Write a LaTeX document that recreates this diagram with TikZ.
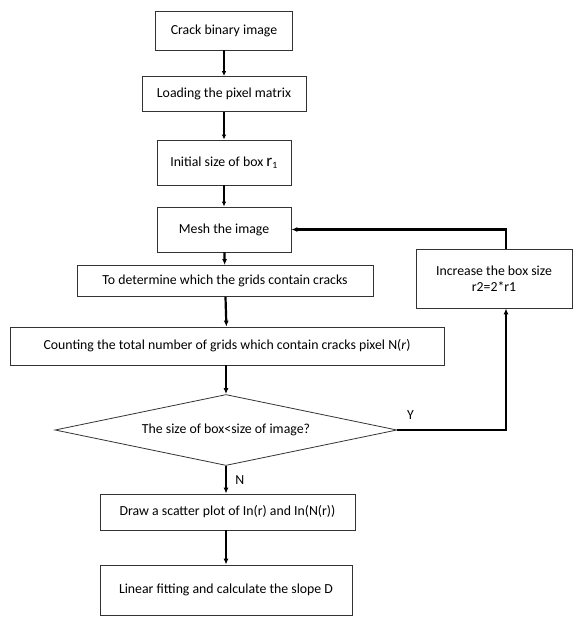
\documentclass[tikz,border=0pt]{standalone}
\usepackage{fontspec}
\setmainfont{Carlito}
\usetikzlibrary{shapes.geometric,arrows.meta}
\tikzset{
	stepbox/.style={draw=black!80, line width=0.8pt, fill=white, inner sep=0pt, align=center},
	testbox/.style={diamond, aspect=4.8, draw=black!80, line width=0.8pt, inner sep=0pt, minimum width=342pt, minimum height=71pt},
	flow/.style={line width=2.2pt, -{Latex[length=6pt,width=5pt]}},
	thinflow/.style={line width=1.4pt, -{Latex[length=5pt,width=4.5pt]}}
}

\begin{document}
\begin{tikzpicture}[x=1pt, y=-1pt, font=\fontsize{13.8}{16.5}\selectfont]
			%%%%% START %%%%%
			\useasboundingbox (0, 0) rectangle (581, 624);
			
			\node[stepbox, minimum width=137pt, minimum height=39pt] (crack) at (224, 30.5) {Crack binary image};
			\node[stepbox, minimum width=164pt, minimum height=35pt] (load) at (224, 94) {Loading the pixel matrix};
			\node[stepbox, minimum width=134pt, minimum height=45pt] (init) at (224, 162.5) {Initial size of box {\fontsize{17}{17}\selectfont r}\textsubscript{1}};
			\node[stepbox, minimum width=134pt, minimum height=45pt] (mesh) at (224, 229.5) {Mesh the image};
			\node[stepbox, minimum width=296pt, minimum height=31pt] (grids) at (225, 281) {To determine which the grids contain cracks};
			\node[stepbox, minimum width=434pt, minimum height=38pt] (count) at (227, 346) {Counting the total number of grids which contain cracks pixel N(\textit{r})};
			\node[testbox] (test) at (226, 430) {The size of box<size of image?};
			\node[stepbox, minimum width=255pt, minimum height=36pt] (scatter) at (227.5, 512) {Draw a scatter plot of In(r) and In(N(r))};
			\node[stepbox, minimum width=252pt, minimum height=50pt] (fit) at (226, 590) {Linear fitting and calculate the slope D};
			
			\node[stepbox, minimum width=156pt, minimum height=59pt] (grow) at (494, 278.5) {Increase the box size\\r2=2*r1};
			
			% main line
			\draw[thinflow] (crack) -- (load);
			\draw[thinflow] (load) -- (init);
			\draw[thinflow] (init) -- (mesh);
			\draw[flow] (mesh) -- (grids);
			\draw[flow] (grids) -- (count);
			\draw[flow] (count.south -| test.north) -- (test.north);
			\draw[flow] (test.south) -- (test.south |- scatter.north) node[midway, right=5pt] {N};
			\draw[flow] (scatter.south -| fit.north) -- (fit.north);
			
			% loop back
			\draw[flow] (test.east) -| ([xshift=12pt]grow.south) node[pos=0.06, above=6pt] {Y};
			\draw[flow] ([xshift=12pt]grow.north) |- (mesh.east);
			
			%%%%% END %%%%%
		\end{tikzpicture}
\end{document}
